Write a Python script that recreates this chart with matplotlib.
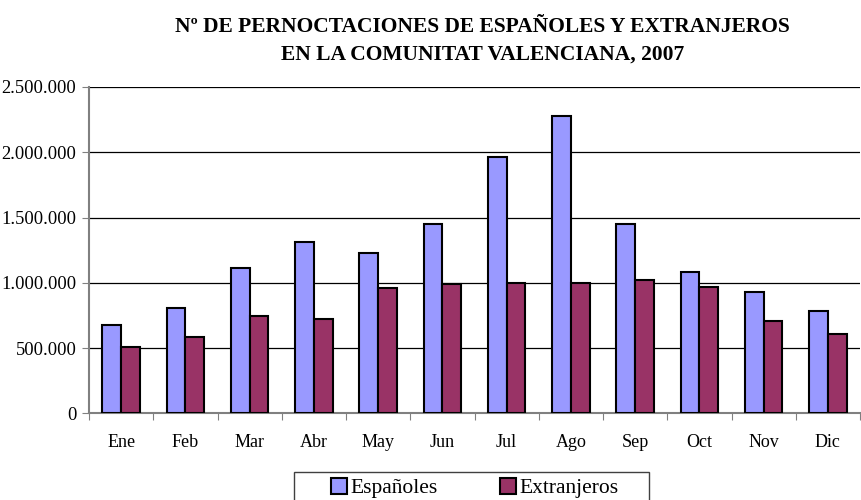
import matplotlib
matplotlib.use('Agg')
import matplotlib.pyplot as plt
from matplotlib.ticker import FuncFormatter, FixedLocator
from matplotlib.patches import Rectangle
import numpy as np

# datos: pernoctaciones por mes, 2007
meses = ['Ene', 'Feb', 'Mar', 'Abr', 'May', 'Jun', 'Jul', 'Ago', 'Sep', 'Oct', 'Nov', 'Dic']
espanoles = [675000, 807000, 1110000, 1314000, 1227000, 1452000,
             1962000, 2274000, 1454000, 1085000, 930000, 782000]
extranjeros = [506000, 583000, 746000, 726000, 961000, 987000,
               1002000, 1002000, 1023000, 971000, 705000, 608000]

plt.rcParams['font.family'] = ['Liberation Serif', 'DejaVu Serif']

fig = plt.figure(figsize=(8.61, 5), dpi=100)
ax = fig.add_axes([89/861, 1 - 413.3/500, 771/861, 326.3/500])

x = np.arange(len(meses))
w = 0.29
ax.bar(x - w/2, espanoles, w, color='#9999FF', edgecolor='black', linewidth=1.5, label='Españoles', zorder=3)
ax.bar(x + w/2, extranjeros, w, color='#993366', edgecolor='black', linewidth=1.5, label='Extranjeros', zorder=3)

ax.set_xlim(-0.5, len(meses) - 0.5)
ax.set_ylim(0, 2500000)
ax.set_yticks(np.arange(0, 2500001, 500000))
ax.yaxis.set_major_formatter(FuncFormatter(lambda v, p: f'{int(v):,}'.replace(',', '.')))
ax.grid(axis='y', color='black', linewidth=0.9, zorder=0)

# ticks en los limites de categoria, etiquetas en el centro
ax.xaxis.set_major_locator(FixedLocator(np.arange(-0.5, len(meses), 1)))
ax.xaxis.set_minor_locator(FixedLocator(x))
ax.set_xticklabels([], minor=False)
ax.set_xticklabels(meses, minor=True)
ax.tick_params(axis='x', which='major', length=5, color='#808080', direction='out')
ax.tick_params(axis='x', which='minor', length=0, pad=15, labelsize=13)
ax.tick_params(axis='y', length=5, color='#808080', direction='out', labelsize=13.3, pad=4)

for s in ['top', 'right']:
    ax.spines[s].set_visible(False)
for s in ['left', 'bottom']:
    ax.spines[s].set_color('#808080')
    ax.spines[s].set_linewidth(1.5)

fig.text(0.56, 1 - 27/500, 'Nº DE PERNOCTACIONES DE ESPAÑOLES Y EXTRANJEROS',
         ha='center', va='center', fontsize=15.5, fontweight='bold')
fig.text(0.56, 1 - 55/500, 'EN LA COMUNITAT VALENCIANA, 2007',
         ha='center', va='center', fontsize=15.5, fontweight='bold')

# leyenda: caja dibujada aparte
fig.patches.append(Rectangle((294/861, 1 - 515/500), 355/861, 43/500,
                             transform=fig.transFigure, facecolor='white',
                             edgecolor='#404040', linewidth=1.0))
leg = fig.legend(loc='center left', bbox_to_anchor=(320/861, 1 - 488/500), ncol=2,
                 fontsize=15.5, frameon=False,
                 handlelength=0.75, handleheight=0.75, handletextpad=0.15,
                 columnspacing=2.9, borderpad=0.0)

fig.savefig('out.png', dpi=100)
